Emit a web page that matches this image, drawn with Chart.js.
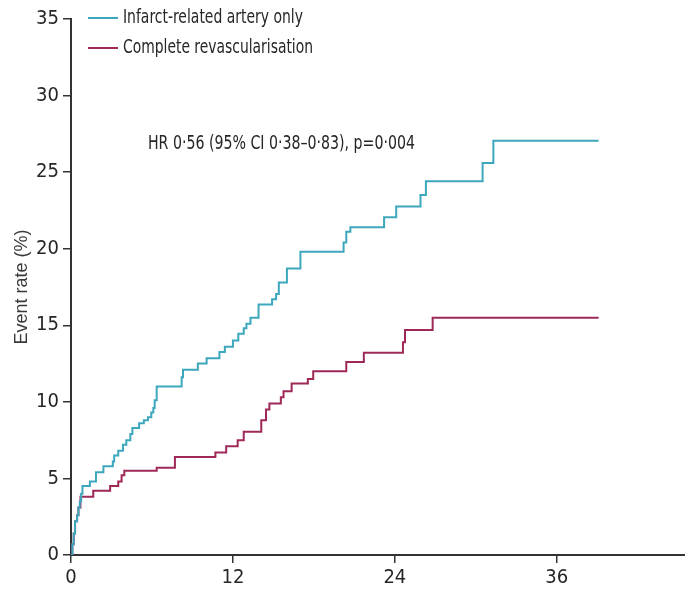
<!DOCTYPE html>
<html>
<head>
<meta charset="utf-8">
<script src="https://cdn.jsdelivr.net/npm/chart.js@4.4.1/dist/chart.umd.min.js"></script>
<style>
  html, body { margin: 0; padding: 0; background: #fff; }
  #wrap { width: 685px; height: 594px; position: relative; }
</style>
</head>
<body>
<div id="wrap"><canvas id="myChart"></canvas></div>
<script>
// Cumulative event rate (%) by months since randomisation
const seriesNames = ['Infarct-related artery only', 'Complete revascularisation'];

const iraMonths = [0, 0.1, 0.2, 0.3, 0.45, 0.55, 0.65, 0.75, 0.85, 1.4, 1.85, 2.4, 3.1, 3.2, 3.5, 3.85, 4.1, 4.4, 4.55, 5.05, 5.4, 5.7, 5.95, 6.1, 6.2, 6.35,
    8.2, 8.3, 9.4, 10.05, 11.0, 11.4, 12.0, 12.4, 12.8, 13.0, 13.3, 13.9, 14.9, 15.2, 15.4, 16.0, 17.0, 20.2, 20.4, 20.7, 23.2, 24.1, 25.9, 26.3, 30.5, 31.3, 39.1];
const iraRates = [0, 0.7, 1.4, 2.2, 2.6, 3.1, 3.5, 4.0, 4.5, 4.8, 5.4, 5.8, 6.1, 6.5, 6.8, 7.2, 7.5, 7.9, 8.3, 8.6, 8.8, 9.0, 9.3, 9.6, 10.1, 11.0,
    11.6, 12.1, 12.5, 12.85, 13.25, 13.6, 14.0, 14.45, 14.8, 15.1, 15.5, 16.35, 16.7, 17.05, 17.8, 18.7, 19.8, 20.4, 21.1, 21.4, 22.05, 22.75, 23.5, 24.4, 25.6, 27.05, 27.05];

const crMonths = [0, 0.1, 0.2, 0.3, 0.45, 0.55, 0.7, 1.65, 2.9, 3.5, 3.75, 3.95, 6.35, 7.7, 10.7, 11.5, 12.35, 12.8, 14.1, 14.45, 14.7, 15.55, 15.75, 16.35,
    17.55, 17.95, 20.4, 21.7, 24.6, 24.75, 26.8, 39.1];
const crRates = [0, 0.7, 1.4, 2.2, 2.6, 3.1, 3.8, 4.2, 4.5, 4.8, 5.2, 5.5, 5.7, 6.4, 6.7, 7.1, 7.5, 8.05, 8.8, 9.5, 9.9, 10.3, 10.7, 11.2,
    11.5, 12.0, 12.6, 13.2, 13.9, 14.7, 15.5, 15.5];

const xTicks = [0, 12, 24, 36];
const yTicks = [0, 5, 10, 15, 20, 25, 30, 35];
const hrText = 'HR 0·56 (95% CI 0·38–0·83), p=0·004';

const iraColor = '#3da7bd';
const crColor = '#9e2858';
const axisColor = '#333333';
const narrow = '"Liberation Sans Narrow", "DejaVu Sans Condensed", "Liberation Sans", sans-serif';

function toPoints(xs, ys) {
    return xs.map((x, i) => ({ x: x, y: ys[i] }));
}

// legend + hazard ratio text, drawn on the canvas
const extraText = {
    id: 'extraText',
    afterDraw(chart) {
        const ctx = chart.ctx;
        const area = chart.chartArea;
        const xs = chart.scales.x, ys = chart.scales.y;
        ctx.save();
        ctx.font = '20px ' + narrow;
        ctx.fillStyle = '#262626';
        ctx.textBaseline = 'middle';
        const rows = [
            { label: seriesNames[0], color: iraColor, dy: -1, w: 180 },
            { label: seriesNames[1], color: crColor, dy: 29, w: 190 }
        ];
        rows.forEach(r => {
            const y = area.top + r.dy;
            ctx.strokeStyle = r.color;
            ctx.lineWidth = 2;
            ctx.beginPath();
            ctx.moveTo(area.left + 17, y);
            ctx.lineTo(area.left + 47, y);
            ctx.stroke();
            ctx.fillText(r.label, area.left + 52, y, r.w);
        });
        ctx.fillText(hrText, xs.getPixelForValue(5.7), ys.getPixelForValue(26.85), 267);
        ctx.restore();
    }
};

const ctx = document.getElementById('myChart').getContext('2d');
const myChart = new Chart(ctx, {
    type: 'line',
    data: {
        datasets: [{
            label: seriesNames[0],
            data: toPoints(iraMonths, iraRates),
            borderColor: iraColor,
            borderWidth: 2,
            stepped: true,
            pointRadius: 0,
            fill: false
        }, {
            label: seriesNames[1],
            data: toPoints(crMonths, crRates),
            borderColor: crColor,
            borderWidth: 2,
            stepped: true,
            pointRadius: 0,
            fill: false
        }]
    },
    options: {
        responsive: true,
        maintainAspectRatio: false,
        animation: false,
        layout: { padding: { top: 19, right: 0, bottom: 0, left: 0 } },
        plugins: {
            legend: { display: false },
            tooltip: { enabled: false }
        },
        scales: {
            x: {
                type: 'linear',
                min: 0,
                max: 45.5,
                afterBuildTicks: s => { s.ticks = xTicks.map(v => ({ value: v })); },
                afterFit: s => { s.height = 39; },
                grid: { drawOnChartArea: false, drawTicks: true, tickLength: 8, color: axisColor, lineWidth: 1.5 },
                border: { display: true, color: axisColor, width: 2 },
                ticks: { font: { size: 20, family: narrow }, color: '#262626', padding: 3, maxRotation: 0 }
            },
            y: {
                min: 0,
                max: 35,
                afterBuildTicks: s => { s.ticks = yTicks.map(v => ({ value: v })); },
                afterFit: s => { s.width = 71; },
                grid: { drawOnChartArea: false, drawTicks: true, tickLength: 8, color: axisColor, lineWidth: 1.5 },
                border: { display: true, color: axisColor, width: 2 },
                ticks: { font: { size: 20, family: narrow }, color: '#262626', padding: 4 },
                title: {
                    display: true,
                    text: 'Event rate (%)',
                    color: '#3a3a3a',
                    font: { size: 18, family: '"Liberation Sans", Arial, sans-serif' },
                    padding: { top: 11, bottom: 0 }
                }
            }
        }
    },
    plugins: [extraText]
});
</script>
</body>
</html>
